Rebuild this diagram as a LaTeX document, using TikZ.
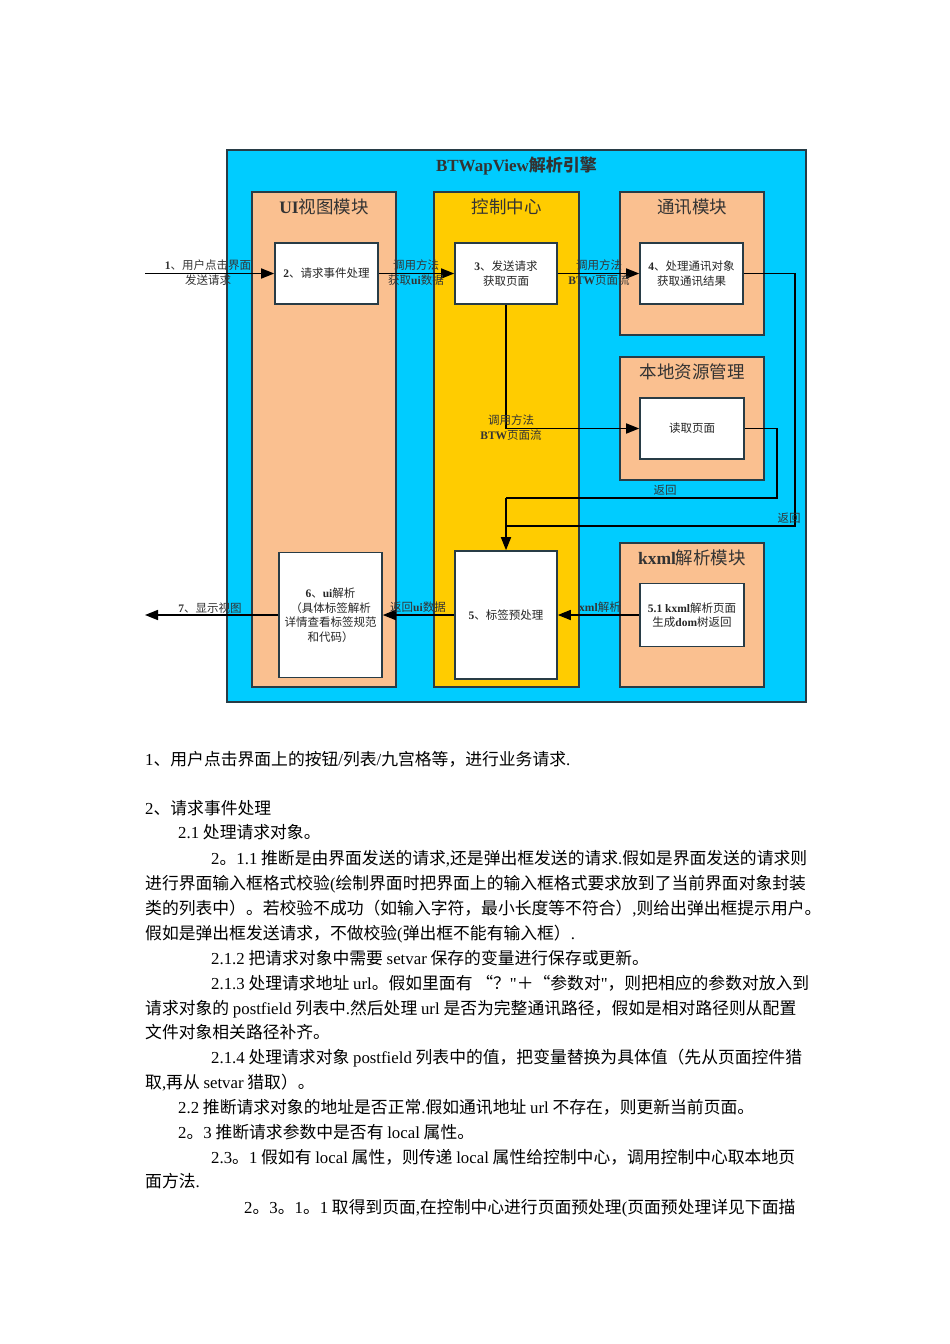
\documentclass[tikz,border=0pt]{standalone}
\usepackage{fontspec}
\setmainfont{Noto Sans CJK SC}
\newfontfamily\enfont{Liberation Serif}
\newcommand\en[1]{{\enfont#1}}
\newcommand\enb[1]{{\enfont\bfseries#1}}
\usetikzlibrary{arrows.meta,positioning}
\definecolor{sky}{RGB}{0,204,255}
\definecolor{peach}{RGB}{250,192,144}
\definecolor{gold}{RGB}{255,204,0}
\definecolor{edge}{RGB}{40,60,70}

\begin{document}
\begin{tikzpicture}[
    x=1pt,y=-1pt,
    box/.style={draw=edge,line width=1.6pt,inner sep=0pt},
    module/.style={box,fill=peach},
    stepbox/.style={box,fill=white,align=center,text=black!85,
        font=\fontsize{11.5}{14.5}\selectfont},
    head/.style={inner sep=0pt,text=black!80,font=\fontsize{17.5}{20}\selectfont},
    flow/.style={line width=1.6pt,-{Triangle[length=13pt,width=10pt]}},
    wire/.style={line width=1.6pt},
    tag/.style={inner sep=0pt,align=center,text=black!80,
        font=\fontsize{11.5}{14.5}\selectfont},
    para/.style={anchor=base west,inner sep=0pt,font=\fontsize{16.8}{20}\selectfont}
]
    \fill[white] (0,0) rectangle (950,1344);
    \useasboundingbox (0,0) rectangle (950,1344);

    \node[box,fill=sky,minimum width=579,minimum height=552] (engine) at (516.5,426) {};
    \node[head,font=\fontsize{17}{20}\selectfont\bfseries,below=7.5pt of engine.north] (engine title) {\en{BTWapView}解析引擎};

    \node[module,minimum width=144,minimum height=495] (ui) at (324,439.5) {};
    \node[module,fill=gold,minimum width=145,minimum height=495] (ctrl) at (506.5,439.5) {};
    \node[module,minimum width=144,minimum height=143] (comm) at (692,263.5) {};
    \node[module,minimum width=144,minimum height=123] (local) at (692,418.5) {};
    \node[module,minimum width=144,minimum height=144] (kxml) at (692,615) {};
    \node[head,below=7.5pt of ui.north] (ui title) {\enb{UI}视图模块};
    \node[head,below=7.5pt of ctrl.north] (ctrl title) {控制中心};
    \node[head,below=7.5pt of comm.north] (comm title) {通讯模块};
    \node[head,below=7.5pt of local.north] (local title) {本地资源管理};
    \node[head,below=7.5pt of kxml.north] (kxml title) {\enb{kxml}解析模块};

    \node[stepbox,minimum width=103,minimum height=61] (s2) at (326.5,273.5) {\enb{2}、请求事件处理};
    \node[stepbox,minimum width=102,minimum height=61] (s3) at (506,273.5) {\enb{3}、发送请求\\获取页面};
    \node[stepbox,minimum width=103,minimum height=61] (s4) at (691.5,273.5) {\enb{4}、处理通讯对象\\获取通讯结果};
    \node[stepbox,minimum width=104,minimum height=61] (read) at (692,428.5) {读取页面};
    \node[stepbox,minimum width=104,minimum height=63] (s51) at (692,615) {\enb{5.1 kxml}解析页面\\生成\enb{dom}树返回};
    \node[stepbox,minimum width=102,minimum height=128] (s5) at (506,615) {\enb{5}、标签预处理};
    \node[stepbox,minimum width=103,minimum height=125] (s6) at (330.5,615) {\enb{6}、\enb{ui}解析\\（具体标签解析\\详情查看标签规范\\和代码）};

    \coordinate (user) at (145,273.5);
    \coordinate (screen) at (145,615);
    \coordinate (back1) at (777,498);
    \coordinate (back2) at (795,526);

    \draw[flow] (user) -- (s2);
    \draw[flow] (s2) -- (s3);
    \draw[flow] (s3) -- (s4);
    \draw[flow] (s3.south) |- (read.west);
    \draw[wire] (read.east) -| (back1) -- (back1 -| s5.north);
    \draw[wire] (s4.east) -| (back2) -- (back2 -| s5.north);
    \draw[flow] (back1 -| s5.north) -- (s5.north);
    \draw[flow] (s51) -- (s5);
    \draw[flow] (s5) -- (s6);
    \draw[flow] (s6) -- (screen);

    \node[tag] (t1) at (208,272.5) {\enb{1}、用户点击界面\\发送请求};
    \node[tag] (t2) at (416,272.5) {调用方法\\获取\enb{ui}数据};
    \node[tag] (t3) at (599,272.5) {调用方法\\\enb{BTW}页面流};
    \node[tag] (t4) at (511,427.5) {调用方法\\\enb{BTW}页面流};
    \node[tag] (t5) at (665,490) {返回};
    \node[tag] (t6) at (789,518) {返回};
    \node[tag] (t7) at (600,607) {\enb{xml}解析};
    \node[tag] (t8) at (418,607) {返回\enb{ui}数据};
    \node[tag] (t9) at (210,608) {\enb{7}、显示视图};

    \node[para] (l1) at (145,765) {\en{1}、用户点击界面上的按钮\en{/}列表\en{/}九宫格等，进行业务请求\en{.}};
    \node[para] (l2) at (145,814) {\en{2}、请求事件处理};
    \node[para] (l3) at (178,838) {\en{2.1} 处理请求对象。};
    \node[para] (l4) at (211,864) {\en{2}。\en{1.1} 推断是由界面发送的请求\en{,}还是弹出框发送的请求\en{.}假如是界面发送的请求则};
    \node[para] (l5) at (145,889) {进行界面输入框格式校验\en{(}绘制界面时把界面上的输入框格式要求放到了当前界面对象封装};
    \node[para] (l6) at (145,914) {类的列表中）。若校验不成功（如输入字符，最小长度等不符合）\en{,}则给出弹出框提示用户。};
    \node[para] (l7) at (145,939) {假如是弹出框发送请求，不做校验\en{(}弹出框不能有输入框）\en{.}};
    \node[para] (l8) at (211,964) {\en{2.1.2} 把请求对象中需要 \en{setvar} 保存的变量进行保存或更新。};
    \node[para] (l9) at (211,989) {\en{2.1.3} 处理请求地址 \en{url}。假如里面有 “？\en{"}＋“参数对\en{"}，则把相应的参数对放入到};
    \node[para] (l10) at (145,1014) {请求对象的 \en{postfield} 列表中\en{.}然后处理 \en{url} 是否为完整通讯路径，假如是相对路径则从配置};
    \node[para] (l11) at (145,1038) {文件对象相关路径补齐。};
    \node[para] (l12) at (211,1063) {\en{2.1.4} 处理请求对象 \en{postfield} 列表中的值，把变量替换为具体值（先从页面控件猎};
    \node[para] (l13) at (145,1088) {取\en{,}再从 \en{setvar} 猎取）。};
    \node[para] (l14) at (178,1113) {\en{2.2} 推断请求对象的地址是否正常\en{.}假如通讯地址 \en{url} 不存在，则更新当前页面。};
    \node[para] (l15) at (178,1138) {\en{2}。\en{3} 推断请求参数中是否有 \en{local} 属性。};
    \node[para] (l16) at (211,1163) {\en{2.3}。\en{1} 假如有 \en{local} 属性，则传递 \en{local} 属性给控制中心，调用控制中心取本地页};
    \node[para] (l17) at (145,1187) {面方法\en{.}};
    \node[para] (l18) at (244,1213) {\en{2}。\en{3}。\en{1}。\en{1} 取得到页面\en{,}在控制中心进行页面预处理\en{(}页面预处理详见下面描};
\end{tikzpicture}
\end{document}
